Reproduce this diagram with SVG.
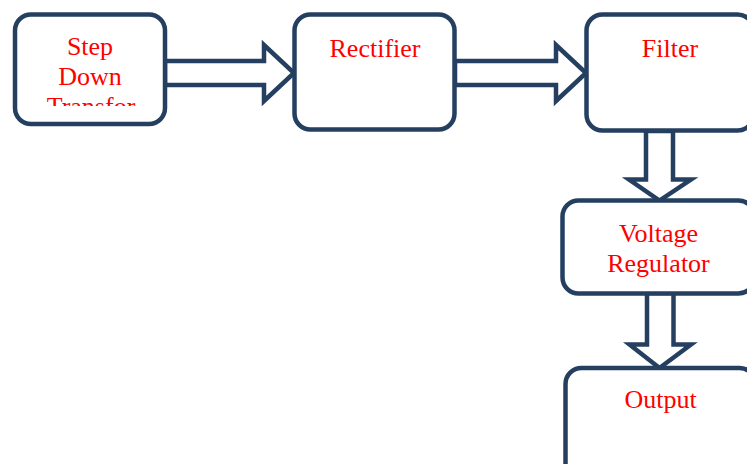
<svg xmlns="http://www.w3.org/2000/svg" width="747" height="464" viewBox="0 0 747 464">
<style>
.box{fill:#fff;stroke:#243F60;stroke-width:4.5}
.arr{fill:#fff;stroke:#243F60;stroke-width:4.5;stroke-linejoin:miter}
.lbl{font-family:"Liberation Serif","Times New Roman",serif;font-size:26px;fill:#FF0000;text-anchor:middle}
</style>
<defs>
<clipPath id="clip1"><rect x="17" y="17" width="146" height="89"/></clipPath>
</defs>
<rect width="747" height="464" fill="#fff"/>
<g id="connectors">
<polygon class="arr" points="165,61 264,61 264,45 294,73 264,101 264,85 165,85"/>
<polygon class="arr" points="455,61 556,61 556,45 586,73 556,101 556,85 455,85"/>
<polygon class="arr" points="646,131 673,131 673,179.5 691,179.5 659.5,200.5 629,179.5 646,179.5"/>
<polygon class="arr" points="647,293 673.5,293 673.5,344.5 691,344.5 659.5,368 629.5,344.5 647,344.5"/>
</g>
<g id="step-down">
<rect class="box" x="15" y="14.5" width="150" height="109.5" rx="16"/>
<g clip-path="url(#clip1)">
<text class="lbl" x="90" y="55">Step</text>
<text class="lbl" x="90" y="85">Down</text>
<text class="lbl" x="91" y="115">Transfor</text>
</g>
</g>
<g id="rectifier">
<rect class="box" x="294.5" y="14.5" width="160" height="115" rx="16"/>
<text class="lbl" x="375" y="57">Rectifier</text>
</g>
<g id="filter">
<rect class="box" x="586.5" y="14.5" width="167" height="116" rx="16"/>
<text class="lbl" x="670" y="57">Filter</text>
</g>
<g id="voltage-regulator">
<rect class="box" x="562.5" y="200.5" width="192" height="93" rx="16"/>
<text class="lbl" x="658.5" y="242">Voltage</text>
<text class="lbl" x="658.5" y="272">Regulator</text>
</g>
<g id="output">
<rect class="box" x="565.5" y="368" width="190" height="120" rx="16"/>
<text class="lbl" x="660.5" y="408">Output</text>
</g>
</svg>
